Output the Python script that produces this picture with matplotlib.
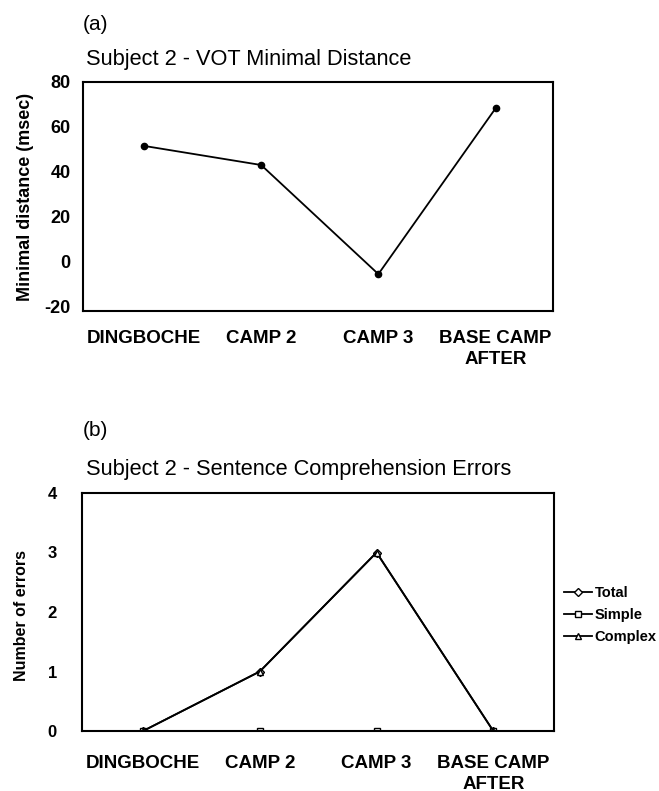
import matplotlib
matplotlib.use("Agg")
import matplotlib.pyplot as plt

plt.rcParams['font.family'] = ['Liberation Sans', 'DejaVu Sans']
plt.rcParams['axes.unicode_minus'] = False

# data
camps = ['DINGBOCHE', 'CAMP 2', 'CAMP 3', 'BASE CAMP\nAFTER']
vot_dist = [51.6, 43.1, -5.4, 68.3]
total_err = [0, 1, 3, 0]
simple_err = [0, 0, 0, 0]
complex_err = [0, 1, 3, 0]

W, H = 659, 791
fig = plt.figure(figsize=(W / 100, H / 100), dpi=100)

def px_axes(left, top, right, bottom):
    return fig.add_axes([left / W, 1 - bottom / H, (right - left) / W, (bottom - top) / H])

def style(ax, ypad, xpad, ysize):
    for s in ax.spines.values():
        s.set_linewidth(1.5)
    ax.tick_params(length=0)
    ax.tick_params(axis='y', pad=ypad, labelsize=ysize)
    ax.tick_params(axis='x', pad=xpad, labelsize=13.5)
    for lab in ax.get_xticklabels() + ax.get_yticklabels():
        lab.set_fontweight('bold')
    for lab in ax.get_xticklabels():
        lab.set_linespacing(1.3)

xs = range(len(camps))

# (a)
ax1 = px_axes(83, 82, 553, 311)
ax1.plot(xs, vot_dist, color='black', lw=1.3, marker='o', ms=4.5)
ax1.set_xlim(-0.52, 3.49)
ax1.set_ylim(-21.8, 80)
ax1.set_yticks([-20, 0, 20, 40, 60, 80])
ax1.set_xticks(list(xs))
ax1.set_xticklabels(camps)
style(ax1, 9, 14, 13)
ax1.set_ylabel('Minimal distance (msec)', fontsize=13, fontweight='bold')
ax1.yaxis.set_label_coords(-0.104, 0.498)
fig.text(83 / W, 1 - 25 / H, '(a)', fontsize=15, va='center', ha='left')
fig.text(86 / W, 1 - 60 / H, 'Subject 2 - VOT Minimal Distance', fontsize=15.7,
         va='center', ha='left')

# (b)
ax2 = px_axes(82, 493, 554, 731)
ax2.plot(xs, total_err, color='black', lw=1.3, marker='D', ms=4.5,
         mfc='white', mec='black', label='Total')
ax2.plot(xs, simple_err, color='black', lw=1.3, marker='s', ms=5,
         mfc='white', mec='black', label='Simple')
ax2.plot(xs, complex_err, color='black', lw=1.3, marker='^', ms=5,
         mfc='white', mec='black', label='Complex')
ax2.set_xlim(-0.523, 3.52)
ax2.set_ylim(0, 4)
ax2.set_yticks([0, 1, 2, 3, 4])
ax2.set_xticks(list(xs))
ax2.set_xticklabels(camps)
style(ax2, 18, 17, 12)
ax2.set_ylabel('Number of errors', fontsize=11.5, fontweight='bold')
ax2.yaxis.set_label_coords(-0.112, 0.487)
leg = ax2.legend(loc='center left', bbox_to_anchor=(564 / W, 1 - 615 / H),
                 bbox_transform=fig.transFigure, frameon=False,
                 prop={'size': 10.5, 'weight': 'bold'}, handlelength=1.9,
                 handletextpad=0.2, labelspacing=0.55, borderpad=0, borderaxespad=0)
fig.text(83 / W, 1 - 430 / H, '(b)', fontsize=15, va='center', ha='left')
fig.text(86 / W, 1 - 470 / H, 'Subject 2 - Sentence Comprehension Errors', fontsize=15.7,
         va='center', ha='left')

fig.savefig('out.png', dpi=100)
